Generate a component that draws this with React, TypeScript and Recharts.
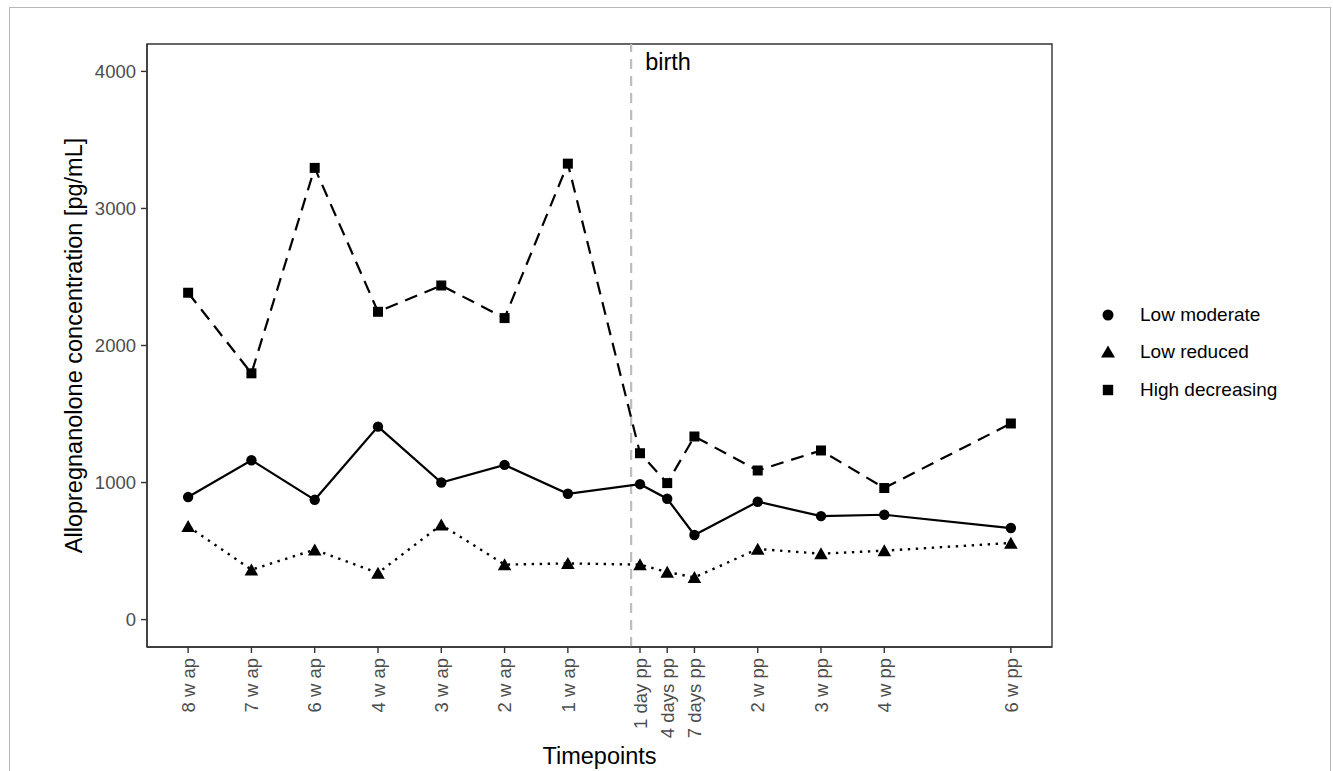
import React from 'react';
import { LineChart, Line, XAxis, YAxis, ReferenceLine, ReferenceArea, Legend } from 'recharts';

const timepointLabels = ['8 w ap', '7 w ap', '6 w ap', '4 w ap', '3 w ap', '2 w ap', '1 w ap', '1 day pp', '4 days pp', '7 days pp', '2 w pp', '3 w pp', '4 w pp', '6 w pp'];
const timepointPositions = [1, 2, 3, 4, 5, 6, 7, 8.14, 8.57, 9, 10, 11, 12, 14];
const lowModerate = [894, 1163, 874, 1408, 1000, 1129, 918, 988, 882, 617, 860, 755, 765, 668];
const lowReduced = [680, 364, 510, 340, 692, 401, 410, 401, 347, 308, 515, 481, 503, 559];
const highDecreasing = [2385, 1797, 3296, 2246, 2438, 2200, 3327, 1214, 996, 1336, 1088, 1234, 960, 1431];
const yTicks = [0, 1000, 2000, 3000, 4000];
const xDomain = [0.35, 14.65];
const yDomain = [-200, 4200];
const birthPosition = 8;
const seriesNames = ['Low moderate', 'Low reduced', 'High decreasing'];

const data = timepointPositions.map((x, i) => ({
  x,
  lowModerate: lowModerate[i],
  lowReduced: lowReduced[i],
  highDecreasing: highDecreasing[i],
}));

const FONT = '"Liberation Sans", Arial, Helvetica, sans-serif';
const AXIS_COLOR = '#333333';

const Circle = (p: any) => <circle key={p.key ?? `c${p.index}`} cx={p.cx} cy={p.cy} r={5.2} fill="#000" />;
const Triangle = (p: any) => (
  <polygon
    key={p.key ?? `t${p.index}`}
    points={`${p.cx},${p.cy - 6.3} ${p.cx - 6.8},${p.cy + 5.7} ${p.cx + 6.8},${p.cy + 5.7}`}
    fill="#000"
  />
);
const Square = (p: any) => <rect key={p.key ?? `s${p.index}`} x={p.cx - 5} y={p.cy - 5} width={10} height={10} fill="#000" />;

const XTick = (props: any) => {
  const { x, y, payload } = props;
  const idx = timepointPositions.indexOf(payload.value);
  return (
    <text
      x={x}
      y={y}
      transform={`rotate(-90 ${x} ${y})`}
      textAnchor="end"
      dy="0.36em"
      fill="#4d4d4d"
      fontSize={18.5}
      fontFamily={FONT}
    >
      {timepointLabels[idx]}
    </text>
  );
};

const legendSymbols = [
  <circle cx={18} cy={19} r={5.5} fill="#000" />,
  <polygon points="18,12.5 11,24.5 25,24.5" fill="#000" />,
  <rect x={12.8} y={13.8} width={10.4} height={10.4} fill="#000" />,
];

const LegendContent = () => (
  <div style={{ fontFamily: FONT, fontSize: 19, color: '#000' }}>
    {seriesNames.map((name, i) => (
      <div key={name} style={{ display: 'flex', alignItems: 'center', height: 37.5 }}>
        <svg width={36} height={38} style={{ marginRight: 14 }}>
          {legendSymbols[i]}
        </svg>
        <span>{name}</span>
      </div>
    ))}
  </div>
);

export default function App() {
  return (
    <div style={{ position: 'absolute', left: 0, top: 0, width: 1333, height: 771, overflow: 'hidden', background: '#fff' }}>
      <div
        style={{
          position: 'absolute',
          left: 9,
          top: 7,
          width: 1322,
          height: 800,
          border: '1px solid #b8b8b8',
          boxSizing: 'border-box',
        }}
      />
      <div style={{ position: 'absolute', left: 0, top: 0 }}>
        <LineChart
          width={1333}
          height={771}
          data={data}
          margin={{ top: 44, right: 281, bottom: 0, left: 0 }}
        >
          <XAxis
            dataKey="x"
            type="number"
            domain={xDomain}
            ticks={timepointPositions}
            interval={0}
            allowDataOverflow
            height={124}
            tickSize={6}
            tickMargin={5}
            axisLine={{ stroke: AXIS_COLOR, strokeWidth: 1.4 }}
            tickLine={{ stroke: AXIS_COLOR, strokeWidth: 1.4 }}
            tick={<XTick />}
            label={{
              value: 'Timepoints',
              position: 'insideBottom',
              offset: 7,
              fill: '#000',
              fontSize: 23.5,
              fontFamily: FONT,
            }}
          />
          <YAxis
            type="number"
            domain={yDomain}
            ticks={yTicks}
            allowDataOverflow
            width={147}
            tickSize={6}
            tickMargin={5}
            axisLine={{ stroke: AXIS_COLOR, strokeWidth: 1.4 }}
            tickLine={{ stroke: AXIS_COLOR, strokeWidth: 1.4 }}
            tick={{ fill: '#4d4d4d', fontSize: 18.5, fontFamily: FONT }}
            label={{
              value: 'Allopregnanolone concentration [pg/mL]',
              angle: -90,
              position: 'center',
              fill: '#000',
              fontSize: 23.5,
              fontFamily: FONT,
            }}
          />
          <ReferenceArea
            x1={xDomain[0]}
            x2={xDomain[1]}
            y1={yDomain[0]}
            y2={yDomain[1]}
            fill="none"
            fillOpacity={0}
            stroke={AXIS_COLOR}
            strokeWidth={1.4}
            ifOverflow="visible"
          />
          <ReferenceLine
            x={birthPosition}
            stroke="#bdbdbd"
            strokeWidth={2.2}
            strokeDasharray="10 7"
            label={(props: any) => (
              <text
                x={props.viewBox.x + 14}
                y={props.viewBox.y + 26}
                fill="#000"
                fontSize={23.5}
                fontFamily={FONT}
              >
                birth
              </text>
            )}
          />
          <Line
            dataKey="lowModerate"
            name={seriesNames[0]}
            stroke="#000"
            strokeWidth={2.2}
            dot={Circle}
            activeDot={false}
            isAnimationActive={false}
          />
          <Line
            dataKey="lowReduced"
            name={seriesNames[1]}
            stroke="#000"
            strokeWidth={2.4}
            strokeDasharray="2.4 5.6"
            dot={Triangle}
            activeDot={false}
            isAnimationActive={false}
          />
          <Line
            dataKey="highDecreasing"
            name={seriesNames[2]}
            stroke="#000"
            strokeWidth={2.2}
            strokeDasharray="13 8"
            dot={Square}
            activeDot={false}
            isAnimationActive={false}
          />
          <Legend
            layout="vertical"
            align="center"
            verticalAlign="middle"
            content={<LegendContent />}
            wrapperStyle={{ left: 1090, top: 296, width: 230 }}
          />
        </LineChart>
      </div>
    </div>
  );
}
